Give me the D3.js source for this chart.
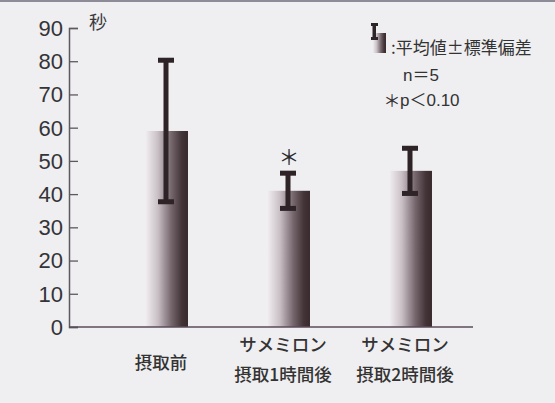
<!DOCTYPE html>
<html>
<head>
<meta charset="utf-8">
<script src="https://cdn.jsdelivr.net/npm/d3@7"></script>
<style>
  body { margin: 0; background: #efeef0; }
  svg { display: block; }
</style>
</head>
<body>
<div id="chart"></div>
<script>
// data
var categories = [["摂取前"], ["サメミロン", "摂取1時間後"], ["サメミロン", "摂取2時間後"]];
var means = [59, 41, 47];
var sds = [21.3, 5.3, 6.8];
var marks = ["", "＊", ""];
var yTicks = [0, 10, 20, 30, 40, 50, 60, 70, 80, 90];
var legendLines = [":平均値±標準偏差", "n＝5", "p＜0.10"];

var W = 555, H = 403;
var jp = "'Noto Sans CJK JP', sans-serif";
var num = "'Liberation Sans', Arial, 'Noto Sans CJK JP', sans-serif";

var svg = d3.select("#chart").append("svg")
    .attr("width", W)
    .attr("height", H);

svg.append("rect").attr("width", W).attr("height", H).attr("fill", "#efeef0");
svg.append("rect").attr("width", W).attr("height", 2).attr("fill", "#8d8b98");

var defs = svg.append("defs");
var grad = defs.append("linearGradient").attr("id", "barGrad")
    .attr("x1", "0%").attr("x2", "100%").attr("y1", "0%").attr("y2", "0%");
grad.append("stop").attr("offset", "0%").attr("stop-color", "#efebee");
grad.append("stop").attr("offset", "28%").attr("stop-color", "#c9c0c6");
grad.append("stop").attr("offset", "60%").attr("stop-color", "#76676d");
grad.append("stop").attr("offset", "85%").attr("stop-color", "#433438");
grad.append("stop").attr("offset", "100%").attr("stop-color", "#38292c");

var y = d3.scaleLinear().domain([0, 90]).range([327, 28]);
var x = d3.scaleBand()
    .domain(d3.range(categories.length))
    .range([106, 472])
    .paddingInner(0.656)
    .paddingOuter(0.328);

// y axis (ticks pointing inward)
var yAxis = d3.axisRight(y).tickValues(yTicks).tickSize(9).tickFormat("");
var ya = svg.append("g").attr("transform", "translate(69,0)").call(yAxis);
ya.select(".domain").attr("stroke", "#5e5860").attr("stroke-width", 1.5);
ya.selectAll(".tick line").attr("stroke", "#5e5860").attr("stroke-width", 1.3);

svg.selectAll(".ylab").data(yTicks).enter().append("text")
    .attr("class", "ylab")
    .attr("x", 63)
    .attr("y", function(d) { return y(d); })
    .attr("dy", "0.36em")
    .attr("text-anchor", "end")
    .attr("font-family", num)
    .attr("font-size", 22)
    .attr("fill", "#343438")
    .text(function(d) { return d; });

svg.append("text")
    .attr("x", 89).attr("y", 29)
    .attr("font-family", jp)
    .attr("font-size", 18)
    .attr("fill", "#3a3a3e")
    .text("秒");

// bars
svg.selectAll(".bar").data(means).enter().append("rect")
    .attr("class", "bar")
    .attr("x", function(d, i) { return x(i); })
    .attr("y", function(d) { return y(d); })
    .attr("width", x.bandwidth())
    .attr("height", function(d) { return y(0) - y(d); })
    .attr("fill", "url(#barGrad)");

// baseline
svg.append("line")
    .attr("x1", 69).attr("x2", 473)
    .attr("y1", y(0)).attr("y2", y(0))
    .attr("stroke", "#5a4b5a").attr("stroke-width", 1.6);

// error bars
var eb = svg.selectAll(".err").data(means).enter().append("g").attr("class", "err");
var ebColor = "#2e2326";
function cx(i) { return x(i) + x.bandwidth() / 2 - 1; }
eb.append("rect")
    .attr("x", function(d, i) { return cx(i) - 2.5; })
    .attr("y", function(d, i) { return y(d + sds[i]); })
    .attr("width", 5)
    .attr("height", function(d, i) { return y(d - sds[i]) - y(d + sds[i]); })
    .attr("fill", ebColor);
eb.append("rect")
    .attr("x", function(d, i) { return cx(i) - 8; })
    .attr("y", function(d, i) { return y(d + sds[i]) - 2.5; })
    .attr("width", 16).attr("height", 5)
    .attr("fill", ebColor);
eb.append("rect")
    .attr("x", function(d, i) { return cx(i) - 8; })
    .attr("y", function(d, i) { return y(d - sds[i]) - 2.5; })
    .attr("width", 16).attr("height", 5)
    .attr("fill", ebColor);

// significance marks
svg.selectAll(".sig").data(marks).enter().append("text")
    .attr("class", "sig")
    .attr("x", function(d, i) { return cx(i) + 1; })
    .attr("y", function(d, i) { return y(means[i] + sds[i]) - 8; })
    .attr("text-anchor", "middle")
    .attr("font-family", jp)
    .attr("font-size", 21)
    .attr("fill", "#2a2a2e")
    .text(function(d) { return d; });

// category labels
var cl = svg.selectAll(".cat").data(categories).enter().append("text")
    .attr("class", "cat")
    .attr("text-anchor", "middle")
    .attr("font-family", jp)
    .attr("font-weight", 500)
    .attr("font-size", 17.5)
    .attr("fill", "#333");
cl.each(function(lines, i) {
    var t = d3.select(this);
    var startY = lines.length === 1 ? 369 : 351;
    lines.forEach(function(s, k) {
        t.append("tspan")
            .attr("x", x(i) + x.bandwidth() / 2 - 6)
            .attr("y", startY + k * 30)
            .text(s);
    });
});

// legend
var lg = svg.append("g");
lg.append("rect").attr("x", 373).attr("y", 33).attr("width", 13).attr("height", 20)
    .attr("fill", "url(#barGrad)");
lg.append("rect").attr("x", 372.5).attr("y", 23).attr("width", 3.5).attr("height", 17).attr("fill", ebColor);
lg.append("rect").attr("x", 371).attr("y", 23).attr("width", 7).attr("height", 3).attr("fill", ebColor);
lg.append("rect").attr("x", 371).attr("y", 37).attr("width", 7).attr("height", 3).attr("fill", ebColor);

var lgX = [391, 403, 400];
var lgY = [54, 81, 106];
lg.selectAll(".lgt").data(legendLines).enter().append("text")
    .attr("class", "lgt")
    .attr("x", function(d, i) { return lgX[i]; })
    .attr("y", function(d, i) { return lgY[i]; })
    .attr("font-family", function(d, i) { return i === 0 ? jp : num; })
    .attr("font-size", 17)
    .attr("fill", "#333")
    .text(function(d) { return d; });
lg.append("text")
    .attr("x", 392).attr("y", 107)
    .attr("text-anchor", "middle")
    .attr("font-family", jp)
    .attr("font-size", 17)
    .attr("fill", "#333")
    .text("＊");
</script>
</body>
</html>
